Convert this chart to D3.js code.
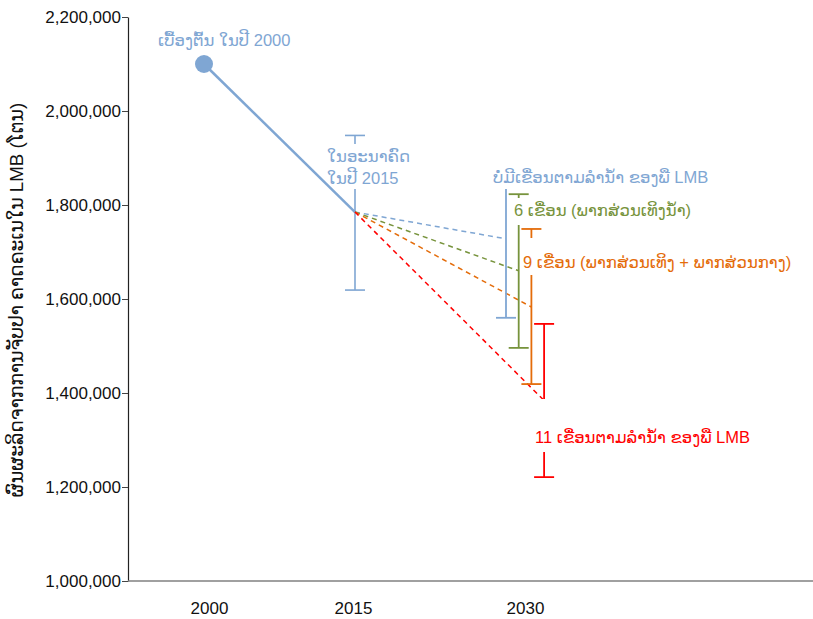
<!DOCTYPE html>
<html>
<head>
<meta charset="utf-8">
<script src="https://cdn.jsdelivr.net/npm/d3@7/dist/d3.min.js"></script>
<style>
  html, body { margin: 0; padding: 0; background: #fff; }
  svg { display: block; font-family: "Liberation Sans", Arial, "DejaVu Sans", sans-serif; }
</style>
</head>
<body>
<svg id="chart" width="813" height="619"></svg>
<script>
// ---- data ----
const yearLabels = ["2000", "2015", "2030"];
const yTicks = [1000000, 1200000, 1400000, 1600000, 1800000, 2000000, 2200000];
const baseYear = 2000, baseValue = 2100000;
const refYear = 2015, refValue = 1785000, refLow = 1619000, refHigh = 1948000;
const scenarioYear = 2030;
const scenarioNames = ["none", "six", "nine", "eleven"];
const scenarioValues = [1728000, 1660000, 1583000, 1384000];
const scenarioLows = [1560000, 1496000, 1419000, 1221000];
const scenarioHighs = [1875000, 1823000, 1749000, 1547000];
const scenarioColors = ["#7fa6d3", "#77933c", "#e46c0a", "#ff0000"];
const yTitle = "ຜົນຜະລິດຈາກການຈັບປາ ຄາດຄະເນໃນ LMB (ໂຕນ)";
const labelBase = "ເບື້ອງຕົ້ນ ໃນປີ 2000";
const labelRef = ["ໃນອະນາຄົດ", "ໃນປີ 2015"];
const scenarioLabels = [
  "ບໍ່ມີເຂື່ອນຕາມລຳນ້ຳ ຂອງພື LMB",
  "6 ເຂື່ອນ (ພາກສ່ວນເທິງນ້ຳ)",
  "9 ເຂື່ອນ (ພາກສ່ວນເທິງ + ພາກສ່ວນກາງ)",
  "11 ເຂື່ອນຕາມລຳນ້ຳ ຂອງພື LMB"
];

// ---- layout ----
const svg = d3.select("#chart");
const blue = scenarioColors[0];
const y = d3.scaleLinear().domain([1000000, 2200000]).range([581, 17]);
const x = d3.scaleLinear().domain([2000, 2015]).range([204, 355]);
const xLab = d3.scaleOrdinal().domain(yearLabels).range([209, 353, 525]);
const offStep = 12.7;
const axisX = 128;
const annoSize = 16.5;

// y axis
const yAxis = svg.append("g").attr("transform", `translate(${axisX},0)`)
  .call(d3.axisLeft(y).tickValues(yTicks).tickFormat(d3.format(",")).tickSize(6).tickPadding(1).tickSizeOuter(0));
yAxis.selectAll("text").attr("font-size", 17).attr("fill", "#111").attr("font-family", "Liberation Sans, Arial, sans-serif");
yAxis.select(".domain").attr("stroke", "#222").attr("stroke-width", 1.2);
yAxis.selectAll(".tick line").attr("stroke", "#444");

// x baseline
svg.append("line").attr("x1", axisX).attr("x2", 813).attr("y1", y(1000000)).attr("y2", y(1000000))
  .attr("stroke", "#808080").attr("stroke-width", 1.6);

// x axis labels
const xAxis = svg.append("g").attr("transform", `translate(0,${y(1000000)})`)
  .call(d3.axisBottom(xLab).tickSize(0).tickPadding(21));
xAxis.select(".domain").remove();
xAxis.selectAll("text").attr("font-size", 17).attr("fill", "#111").attr("font-family", "Liberation Sans, Arial, sans-serif");

// y title
svg.append("text").attr("transform", "translate(23,300) rotate(-90)")
  .attr("text-anchor", "middle").attr("font-size", 18.8).attr("fill", "#111").text(yTitle);

// solid line 2000 -> 2015
svg.append("path").datum([[baseYear, baseValue], [refYear, refValue]])
  .attr("d", d3.line().x(d => x(d[0])).y(d => y(d[1])))
  .attr("stroke", blue).attr("stroke-width", 2.5).attr("fill", "none");

// error bar helper
function errBar(cx, lo, hi, color, w) {
  const g = svg.append("g").attr("stroke", color).attr("stroke-width", w);
  g.append("line").attr("x1", cx).attr("x2", cx).attr("y1", y(hi)).attr("y2", y(lo));
  g.append("line").attr("x1", cx - 10).attr("x2", cx + 10).attr("y1", y(hi)).attr("y2", y(hi));
  g.append("line").attr("x1", cx - 10).attr("x2", cx + 10).attr("y1", y(lo)).attr("y2", y(lo));
}
errBar(x(refYear), refLow, refHigh, blue, 1.6);

// scenario dashed lines + error bars
scenarioNames.forEach((n, i) => {
  const cx = x(scenarioYear) + i * offStep;
  svg.append("line").attr("x1", x(refYear)).attr("y1", y(refValue))
    .attr("x2", cx).attr("y2", y(scenarioValues[i]))
    .attr("stroke", scenarioColors[i]).attr("stroke-width", 1.5).attr("stroke-dasharray", "5,4");
});
scenarioNames.forEach((n, i) => {
  const cx = x(scenarioYear) + i * offStep;
  errBar(cx, scenarioLows[i], scenarioHighs[i], scenarioColors[i], 1.8);
});

// base point
svg.append("circle").attr("cx", x(baseYear)).attr("cy", y(baseValue)).attr("r", 9).attr("fill", blue);

// labels with white background
function label(lines, lx, ly, color, box) {
  if (box) svg.append("rect").attr("x", box[0]).attr("y", box[1]).attr("width", box[2]).attr("height", box[3]).attr("fill", "#fff");
  const t = svg.append("text").attr("font-size", annoSize).attr("fill", color);
  lines.forEach((s, k) => t.append("tspan").attr("x", lx).attr("y", ly + k * 22).text(s));
}
label([labelBase], 158, 46, blue, null);
label(labelRef, 327, 162, blue, [342, 144, 60, 45]);
label([scenarioLabels[0]], 493, 183, blue, [491, 158, 222, 31]);
label([scenarioLabels[1]], 514, 216, scenarioColors[1], [512, 198, 185, 27]);
label([scenarioLabels[2]], 523, 268, scenarioColors[2], [521, 238, 280, 37]);
label([scenarioLabels[3]], 535, 443, scenarioColors[3], [533, 399, 230, 53]);
</script>
</body>
</html>
